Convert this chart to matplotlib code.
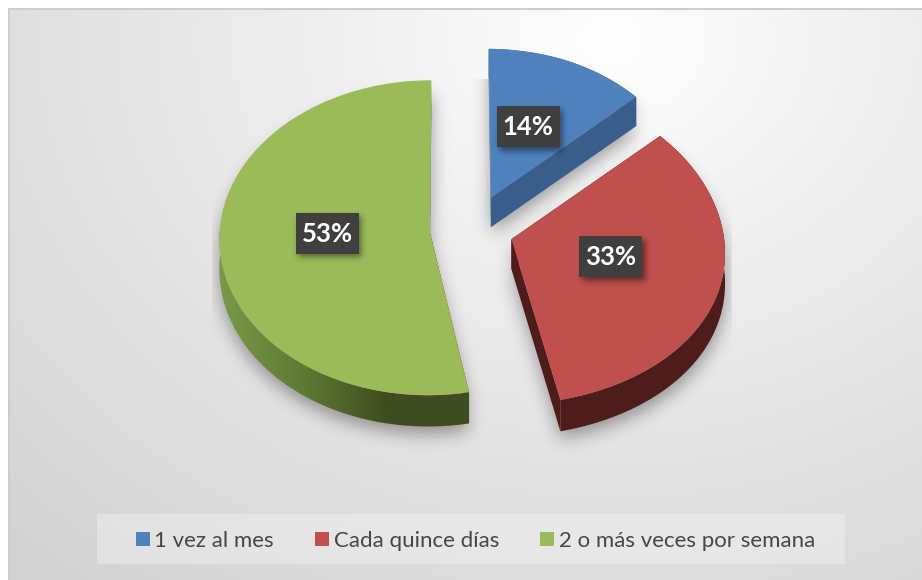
import numpy as np
import matplotlib
matplotlib.use("Agg")
import matplotlib.pyplot as plt
from matplotlib.path import Path
from matplotlib.patches import Rectangle
from matplotlib.transforms import Transform
from matplotlib.colors import LinearSegmentedColormap

categories = ["1 vez al mes", "Cada quince días", "2 o más veces por semana"]
values = [14, 33, 53]
top_colors = ["#4F81BD", "#C0504D", "#9BBB59"]
side_colors = ["#3A5E8C", "#4F1C1C", "#3F4C20"]
text_color = "#474747"

W, H = 922, 580
plt.rcParams["font.family"] = ["Lato", "DejaVu Sans"]

CX, CY, AX, AY, K, DEPTH = 471.6, 228.5, 210.0, 157.0, 0.04, 30.0
SKEW_X, SKEW_Y = 0.075, 0.05
EXPLODE = [0.22, 0.2, 0.2]


class Persp(Transform):
    input_dims = output_dims = 2
    is_separable = False
    has_inverse = False

    def __init__(self, drop=0.0):
        super().__init__()
        self.drop = drop

    def transform_non_affine(self, xy):
        xy = np.asarray(xy, float)
        u, v = xy[:, 0], xy[:, 1]
        w = 1 + K * v
        return np.column_stack((CX + AX * (u - SKEW_X * np.maximum(u, 0) * v) / w,
                                CY - AY * (v + SKEW_Y * np.maximum(u - .3, 0)) / w + self.drop / w))


fig = plt.figure(figsize=(W / 100, H / 100), dpi=100)
ax = fig.add_axes([0, 0, 1, 1])
wedges, _ = ax.pie(values, explode=EXPLODE, colors=top_colors, startangle=90,
                   counterclock=False, wedgeprops=dict(linewidth=0))
ax.set_aspect("auto")

# background
yy, xx = np.mgrid[0:H, 0:W]
d = np.hypot(xx - 610, (yy - 40) * 1.25)
bg = 255 - 44 * np.clip(d / 860, 0, 1) ** 0.9
bayer = np.array([[0, 8, 2, 10], [12, 4, 14, 6], [3, 11, 1, 9], [15, 7, 13, 5]]) / 16.0
bg = np.floor(bg + bayer[yy % 4, xx % 4])
bg[:9, :] = 255
bg[:, :8] = 255
bg[8:10, 8:] = 205
bg[8:, 8:10] = 205
ax.imshow(np.repeat(bg[..., None], 3, axis=2).astype(np.uint8), extent=(0, W, H, 0),
          aspect="auto", zorder=0, interpolation="nearest")


def blur(a, s):
    fy = np.fft.fftfreq(a.shape[0])[:, None]
    fx = np.fft.rfftfreq(a.shape[1])[None, :]
    g = np.exp(-2 * (np.pi * s) ** 2 * (fx ** 2 + fy ** 2))
    return np.fft.irfft2(np.fft.rfft2(a) * g, s=a.shape)


pts = np.column_stack((xx.ravel() + .5, yy.ravel() + .5))
mask = np.zeros((H, W))
for wd in wedges:
    for drop in (DEPTH + 7, DEPTH * .5):
        poly = Persp(drop).transform_path(wd.get_path()).to_polygons(closed_only=False)[0]
        mask[Path(poly).contains_points(pts).reshape(H, W)] = 1
sh = blur(mask, 8.5) * 0.36
sh[:79, :] = 0
sh[:, :212] = 0
sh[:, 731:] = 0
rgba = np.zeros((H, W, 4))
rgba[..., 3] = sh
ax.imshow(rgba, extent=(0, W, H, 0), aspect="auto", zorder=1)

# extruded sides
top = Persp(0)
low = Persp(DEPTH)
green_cmap = LinearSegmentedColormap.from_list("g", ["#7A9A48", "#5E7A34", "#3F4C20", "#3F4C20"])
for i, wd in enumerate(wedges):
    t = np.radians(np.linspace(wd.theta1, wd.theta2, 240))
    c = np.array(wd.center)
    arc = c + wd.r * np.column_stack((np.cos(t), np.sin(t)))
    band = np.vstack((top.transform(arc), low.transform(arc)[::-1]))
    if i == 2:
        im = ax.imshow(np.linspace(0, 1, 256)[None, :], cmap=green_cmap, aspect="auto",
                       extent=(218, 470, 440, 230), zorder=2)
        im.set_clip_path(Path(band), ax.transData)
    else:
        ax.fill(*band.T, color=side_colors[i], lw=0, zorder=2)
    for edge in (arc[0], arc[-1]):
        seg = np.vstack((c, edge))
        ax.fill(*np.vstack((top.transform(seg), low.transform(seg)[::-1])).T,
                color=side_colors[i], lw=0, zorder=2)

for wd in wedges:
    wd.set_transform(top + ax.transData)
    wd.set_zorder(3)

# data labels
centres = [(528, 126.5), (610.5, 256.5), (327, 233)]
bw, bh = 63, 41
lab_sh = np.zeros((H, W))
for (x, y) in centres:
    lab_sh[int(y - bh / 2 + 4):int(y + bh / 2 + 4), int(x - bw / 2 + 3):int(x + bw / 2 + 3)] = 1
rgba2 = np.zeros((H, W, 4))
rgba2[..., 3] = blur(lab_sh, 3) * .45
ax.imshow(rgba2, extent=(0, W, H, 0), aspect="auto", zorder=4)
for v, (x, y) in zip(values, centres):
    ax.add_patch(Rectangle((x - bw / 2, y - bh / 2), bw, bh, fc="#3F3F3F", ec="none", zorder=5))
    ax.text(x, y + .5, f"{v}%", color="white", fontsize=18.5, fontweight="bold",
            ha="center", va="center", zorder=6)

# legend
ax.add_patch(Rectangle((97, 514), 748, 50, fc="white", alpha=.3, ec="none", zorder=1))
ax.set_xlim(0, W)
ax.set_ylim(H, 0)
ax.axis("off")
leg = ax.legend(wedges, categories, ncol=3, frameon=False, loc="center",
                bbox_to_anchor=(475.5 / W, 1 - 541 / H), fontsize=16,
                labelcolor=text_color, handlelength=.62, handleheight=.62,
                handletextpad=.22, columnspacing=1.85, borderpad=0, borderaxespad=0)
leg.set_zorder(7)

fig.savefig("out.png", dpi=100)
